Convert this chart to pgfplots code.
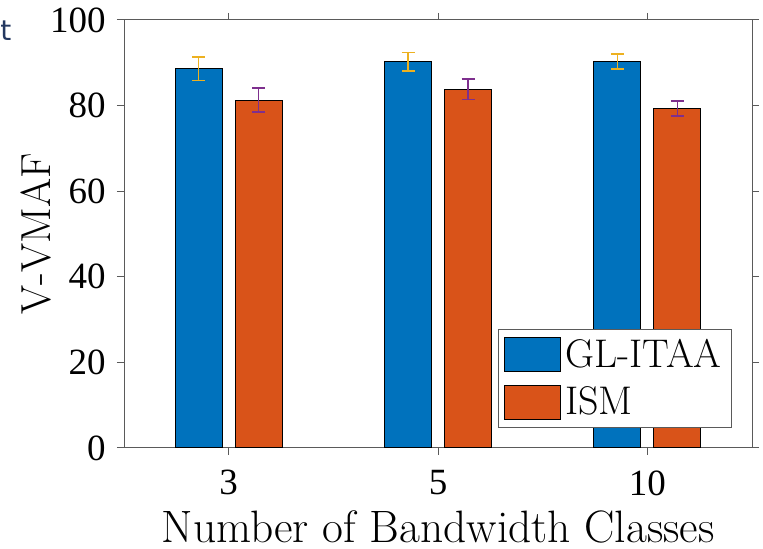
\documentclass[border=0pt]{standalone}
\usepackage{fontspec}
\usepackage{pgfplots}
\usepackage{pgfplotstable}
\pgfplotsset{compat=1.18}
\newfontfamily\mytimes{Liberation Serif}
\newfontfamily\mydejavu{DejaVu Sans}
\definecolor{mblue}{RGB}{0,114,189}
\definecolor{morange}{RGB}{217,83,25}
\definecolor{myellow}{RGB}{237,177,32}
\definecolor{mpurple}{RGB}{126,47,142}
\definecolor{axgray}{RGB}{90,90,90}
\definecolor{tnavy}{RGB}{35,55,95}

\pgfplotstableread{
x y e
1 88.6 2.7
2 90.3 2.15
3 90.3 1.8
}\glitaa
\pgfplotstableread{
x y e
1 81.3 2.8
2 83.8 2.35
3 79.3 1.75
}\ism

\begin{document}
\begin{tikzpicture}
\useasboundingbox (-62pt,-50.5pt) rectangle (319.5pt,224pt);
\node[anchor=north west, inner sep=0pt, text=tnavy, font=\mydejavu\fontsize{14}{16}\selectfont] at (-62pt,214pt) {t};
\begin{axis}[
  scale only axis, width=314pt, height=214pt,
  xmin=0.5, xmax=3.5, ymin=0, ymax=100,
  xtick={1,2,3}, xticklabels={3,5,10},
  ytick={0,20,40,60,80,100},
  tick pos=both, tick align=outside, major tick length=3.5pt,
  axis line style={axgray, line width=0.5pt},
  every tick/.style={axgray, line width=0.5pt},
  /pgf/number format/assume math mode=true,
  ticklabel style={font=\mytimes\fontsize{18.5}{20}\selectfont, text=black},
  xticklabel style={anchor=north, inner sep=0pt, yshift=-7.5pt},
  yticklabel style={anchor=east, inner sep=0pt, xshift=-5.5pt},
  xlabel={Number of Bandwidth Classes},
  ylabel={V-VMAF},
  xlabel style={at={(axis description cs:0.5,-0.221)}, anchor=base, inner sep=0pt, font=\fontsize{22.7}{26}\selectfont},
  ylabel style={at={(axis description cs:-0.1178,0.5)}, anchor=base, inner sep=0pt, font=\fontsize{21}{24}\selectfont},
  legend style={at={(0.968,0.0467)}, anchor=south east, draw=axgray, line width=0.5pt,
    font=\fontsize{20}{23}\selectfont, inner xsep=3pt, inner ysep=3pt, row sep=4pt,
    cells={anchor=west}},
]
\addplot[ybar, bar width=23.5pt, bar shift=-15pt, fill=mblue, draw=black, line width=0.5pt,
  legend image code/.code={\draw[fill=mblue, draw=black, line width=0.5pt] (0pt,-8.5pt) rectangle (28pt,8.5pt);}]
  table[x=x, y=y] {\glitaa};
\addlegendentry{GL-ITAA}
\addplot[ybar, bar width=23.5pt, bar shift=15pt, fill=morange, draw=black, line width=0.5pt,
  legend image code/.code={\draw[fill=morange, draw=black, line width=0.5pt] (0pt,-8.5pt) rectangle (28pt,8.5pt);}]
  table[x=x, y=y] {\ism};
\addlegendentry{ISM}
\addplot[forget plot, draw=none, mark=none,
  error bars/.cd, y dir=both, y explicit,
  error bar style={myellow, line width=0.8pt},
  error mark options={rotate=90, mark size=3.25pt, myellow, line width=0.8pt}]
  table[x expr=\thisrow{x}-0.1433, y=y, y error=e] {\glitaa};
\addplot[forget plot, draw=none, mark=none,
  error bars/.cd, y dir=both, y explicit,
  error bar style={mpurple, line width=0.8pt},
  error mark options={rotate=90, mark size=3.25pt, mpurple, line width=0.8pt}]
  table[x expr=\thisrow{x}+0.1433, y=y, y error=e] {\ism};
\end{axis}
\end{tikzpicture}
\end{document}
